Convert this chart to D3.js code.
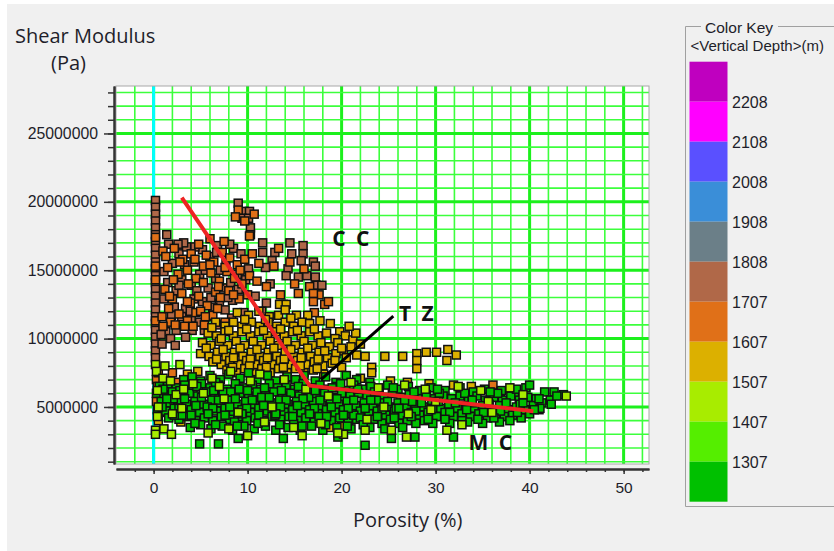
<!DOCTYPE html>
<html>
<head>
<meta charset="utf-8">
<script src="https://cdn.jsdelivr.net/npm/d3@7"></script>
<style>
  html, body { margin: 0; padding: 0; background: #fff; }
  svg { display: block; }
  .tick text { font-family: "Liberation Sans", Arial, sans-serif; font-size: 15.8px; fill: #1e1e2a; }
</style>
</head>
<body>
<svg id="chart" width="834" height="551"></svg>
<script>
// [porosity %, shear modulus in millions of Pa], one array per depth class
const brownPts = [
  [0.2,20.1],[0.2,19.6],[0.2,19.1],[0.2,18.6],[0.2,18.1],[0.2,17.6],[0.2,17.1],[0.2,16.6],[0.2,16.1],[0.2,15.6],
  [0.2,15.1],[0.2,14.6],[0.2,14.1],[0.2,13.6],[0.2,13.1],[0.2,12.6],[0.2,12.1],[0.2,11.6],[0.2,11.1],[0.2,10.6],
  [0.2,10.1],[0.2,9.6],[0.2,9.1],[0.2,8.6],
  [1.6,16.9],[2.7,16.2],[3.5,16.7],[4.3,15.6],[5.2,16.5],[6.0,16.0],[6.8,16.8],[7.7,15.5],[8.5,16.6],[9.3,16.2],
  [10.1,15.1],[1.1,14.9],[2.0,15.5],[3.0,14.3],[4.0,13.9],[4.9,14.7],[5.8,13.7],[6.6,14.4],[7.4,13.7],[8.2,14.1],
  [9.0,13.6],[9.8,14.3],[1.5,14.1],[2.4,13.5],[3.4,12.2],[4.3,12.9],[5.2,12.7],[6.1,13.0],[7.0,12.6],[8.4,12.8],
  [1.1,12.9],[2.2,12.3],[3.0,11.6],[4.0,11.5],[4.9,11.2],[5.8,11.6],[6.7,11.0],[1.3,10.5],[2.4,10.6],[4.1,10.6],
  [1.8,10.0],[0.9,9.6],[3.4,10.1],[2.3,9.5],[11.6,17.0],[11.6,16.3],[12.9,16.3],[12.6,15.7],[11.9,15.2],[14.5,17.0],
  [14.7,16.2],[15.9,16.8],[15.9,16.2],[15.7,15.7],[17.0,15.6],[17.2,15.3],[14.3,15.1],[14.1,14.6],[15.4,14.5],[16.3,14.6],
  [17.2,14.5],[17.3,13.9],[17.9,13.9],[9.0,19.9],[9.6,19.3],[10.2,19.3],[9.4,18.8],[10.1,18.8],[10.3,18.1],[10.3,17.6],
  [12.0,12.6],[11.5,12.0],[9.6,11.9],[8.3,11.5],[7.6,12.1],[10.8,13.1],[3.2,17.0],[1.4,17.6],[12.4,14.0],
  [2.6,16.9],[4.4,16.7],[6.7,16.3],[8.1,16.9],[3.3,15.4],[5.5,15.0],[7.1,15.0],[8.9,14.7],[2.7,13.9],[4.6,13.5],
  [6.3,12.3],[7.9,13.0],[1.9,11.7],[3.9,12.0],[5.4,10.6],[0.8,10.3]
];
const orangePts = [
  [0.2,17.4],[0.2,15.3],[0.2,14.3],[0.2,11.3],
  [1.0,16.4],[2.2,16.6],[3.1,15.8],[4.0,16.2],[4.8,16.9],[5.6,16.1],[6.4,15.6],[7.3,16.3],[8.1,15.9],[8.9,15.4],
  [9.7,15.8],[10.5,16.2],[11.2,15.5],[1.5,15.2],[2.6,14.7],[3.6,15.0],[4.5,14.4],[5.3,15.3],[6.1,14.8],[7.0,14.2],
  [7.8,14.9],[8.6,14.4],[9.4,14.0],[10.2,14.6],[11.0,14.2],[12.0,13.8],[1.2,13.6],[2.0,12.9],[3.0,13.3],[3.9,12.6],
  [4.8,13.1],[5.7,12.4],[6.6,13.4],[0.9,11.6],[1.8,11.2],[2.7,11.8],[3.6,11.3],[4.5,11.9],[5.4,11.0],[6.3,11.7],
  [7.1,13.0],[8.0,13.5],[9.1,12.9],[10.0,13.2],[1.6,12.2],[3.3,10.9],[5.0,12.0],[6.8,12.2],[7.6,11.2],[13.5,13.2],
  [15.0,14.0],[16.6,13.8],[17.6,13.2],[17.1,11.9],[18.2,12.5],[14.5,15.6],[12.8,15.3],[10.7,19.1],[9.0,19.4],[9.7,18.6],
  [8.7,18.9],[10.2,17.5],[7.5,17.1],[6.0,17.3],[13.3,16.6],[16.0,15.1],[15.4,13.3],[17.0,13.3],[17.0,12.7],[18.6,12.7],
  [0.3,7.0],[0.4,6.5],[0.8,5.8],[0.3,5.4],[1.8,6.1],[1.2,6.4],[2.5,6.8],[0.6,4.6],[36.1,6.6],[2.0,7.5],[0.5,7.5],
  [1.3,16.0],[2.8,15.6],[4.4,15.8],[6.0,15.4],[7.6,15.2],[9.2,15.0],[2.1,14.3],[3.7,14.0],[5.3,14.1],[6.9,13.8],
  [8.5,13.2],[1.7,13.1],[3.6,12.7],[5.5,11.6],[2.3,11.0],[4.2,10.9],[1.0,10.9]
];
const goldPts = [
  [13.8,12.5],[13.4,12.5],[14.1,12.5],
  [8.9,11.9],[10.1,11.7],[11.2,12.0],[12.3,11.6],[13.3,11.7],[14.0,12.1],[15.2,11.7],[16.4,11.7],[17.7,11.3],
  [6.6,11.2],[7.6,10.9],[8.5,11.2],[9.4,10.9],[10.4,11.2],[11.3,10.9],[12.2,11.2],[13.1,10.9],[14.0,11.2],[14.9,10.9],
  [15.8,11.2],[16.6,11.1],[18.8,11.1],[19.8,10.5],
  [5.8,10.4],[6.7,10.2],[7.6,10.5],[8.5,10.2],[9.4,10.5],[10.3,10.2],[11.2,10.5],[12.1,10.2],[13.0,10.5],[13.9,10.2],
  [14.8,10.5],[15.7,10.2],[16.6,10.5],[17.5,10.2],[18.4,10.4],[19.3,10.0],[20.4,10.2],[21.2,9.9],
  [5.2,9.7],[6.1,9.5],[7.0,9.8],[7.9,9.5],[8.8,9.8],[9.7,9.5],[10.6,9.8],[11.5,9.5],[12.4,9.8],[13.3,9.5],
  [14.2,9.8],[15.1,9.5],[16.0,9.8],[16.9,9.5],[17.8,9.7],[18.7,9.4],[19.6,9.7],[20.2,9.1],[21.0,9.4],[22.0,9.6],
  [5.0,8.9],[5.9,8.7],[6.8,9.0],[7.7,8.7],[8.6,9.0],[9.5,8.7],[10.4,9.0],[11.3,8.7],[12.2,9.0],[13.1,8.7],
  [14.0,9.0],[14.9,8.7],[15.8,9.0],[16.7,8.7],[17.6,9.0],[18.5,8.6],[19.4,8.9],[20.5,8.6],[21.6,8.8],[22.5,8.7],
  [6.3,8.3],[7.2,8.1],[8.1,8.4],[9.0,8.1],[9.9,8.4],[10.8,8.1],[11.7,8.4],[12.6,8.1],[13.5,8.4],[14.4,8.1],
  [15.3,8.4],[16.2,8.1],[17.1,8.3],[18.0,8.0],[19.0,8.2],[20.0,7.9],[23.2,7.9],[23.2,7.5],
  [7.8,7.7],[8.8,7.5],[9.7,7.8],[10.6,7.5],[11.5,7.8],[12.4,7.5],[13.3,7.8],[14.2,7.5],[15.1,7.8],[16.0,7.5],
  [17.0,7.7],[18.1,7.4],
  [24.6,8.7],[26.5,8.7],[28.0,8.9],[29.0,9.0],[30.1,9.0],[31.3,9.2],[32.2,8.8],[31.2,8.4],[28.0,8.4],[28.0,7.8],
  [31.9,6.6],[29.3,6.7],[27.0,6.8],[25.2,6.9],[22.0,7.1],[33.8,6.5],[20.0,3.6],[18.8,3.5],[2.9,3.9],[3.6,7.4],
  [4.7,7.6],[0.5,4.0],[36.9,6.1],[21.5,6.1],
  [6.2,10.8],[8.0,10.6],[9.9,10.7],[11.7,10.6],[13.5,10.7],[15.3,10.6],[17.1,10.7],[5.6,9.3],[7.4,9.2],[9.2,9.3],
  [11.0,9.2],[12.8,9.3],[14.6,9.2],[16.4,9.3],[18.2,9.1],[20.0,9.3],[6.7,8.5],[8.5,8.6],[10.3,8.5],[12.1,8.6],
  [13.9,8.5],[15.7,8.6],[17.5,8.5],[19.3,8.4],[8.4,7.9],[10.2,8.0],[12.0,7.9],[13.8,7.9],[15.6,8.0],[17.4,7.8],
  [11.9,11.4],[14.6,11.5],[9.7,11.4],[7.2,10.0],[21.5,10.4],[20.8,10.9]
];
const limePts = [
  [0.2,8.1],[0.3,7.6],[1.2,8.0],[2.8,8.1],[1.0,7.1],[1.8,6.9],[0.4,6.2],[0.5,5.0],[0.4,4.3],[0.2,3.3],
  [0.2,3.0],[1.1,3.4],[1.9,3.0],[2.4,5.9],[3.2,6.3],[2.0,4.5],[3.0,4.9],[4.2,6.7],[5.3,6.0],[6.2,7.1],
  [7.5,5.6],[8.2,7.6],[9.0,4.6],[10.3,6.9],[11.8,3.9],[12.6,5.0],[13.9,7.0],[14.9,3.5],[16.2,6.3],[17.8,3.8],
  [18.6,5.8],[20.2,3.0],[21.0,6.8],[22.7,4.1],[23.9,6.4],[25.3,3.3],[26.7,6.6],[27.1,4.5],[28.9,6.3],[30.0,5.4],
  [31.2,3.3],[32.8,3.7],[32.4,6.5],[34.8,6.2],[36.0,4.6],[37.9,6.4],[39.3,5.9],[43.9,5.8],[22.5,3.3],[26.9,2.8],
  [19.6,3.1],[5.8,3.1],[8.0,3.4],[10.0,2.9],[15.8,2.9],[11.3,7.4],[7.0,6.5],[24.5,5.0],[29.5,4.8],[35.6,5.4]
];
const greenPts = [
  [3.2,7.0],[4.1,7.2],[5.0,6.9],[6.0,7.3],[7.1,7.0],[8.0,7.4],[9.2,7.1],[10.1,7.5],[11.0,7.0],[12.1,7.3],
  [13.0,6.9],[14.2,7.2],[15.1,7.0],[16.0,7.3],[17.2,6.9],[18.3,7.2],[19.4,6.8],[20.5,7.3],[21.6,7.0],[23.0,6.8],
  [0.6,6.5],[1.5,6.7],[2.4,6.4],[3.3,6.6],[4.2,6.3],[5.1,6.7],[6.0,6.4],[6.9,6.6],[7.8,6.3],[8.7,6.7],
  [9.6,6.4],[10.5,6.6],[11.4,6.3],[12.3,6.7],[13.2,6.4],[14.1,6.6],[15.0,6.3],[15.9,6.7],[16.8,6.4],[17.7,6.6],
  [18.6,6.3],[19.5,6.5],[20.4,6.2],[21.3,6.6],[22.2,6.3],[23.1,6.5],[24.0,6.2],[24.9,6.6],[26.0,6.3],[27.1,6.5],
  [28.3,6.2],[29.5,6.4],[31.0,6.2],[32.6,6.4],[34.0,6.1],[35.2,6.3],[37.0,6.2],[38.4,6.0],[39.6,6.4],[40.0,6.6],
  [0.3,6.0],[1.1,5.9],[2.0,6.1],[2.9,5.8],[3.8,6.0],[4.7,5.8],[5.6,6.1],[6.5,5.9],[7.4,6.1],[8.3,5.8],
  [9.2,6.0],[10.1,5.8],[11.0,6.1],[11.9,5.9],[12.8,6.1],[13.7,5.8],[14.6,6.0],[15.5,5.8],[16.4,6.1],[17.3,5.9],
  [18.2,6.0],[19.1,5.7],[20.0,6.0],[20.9,5.8],[21.8,6.0],[22.7,5.7],[23.6,5.9],[24.5,5.7],[25.4,6.0],[26.3,5.7],
  [27.2,5.9],[28.1,5.6],[29.0,5.9],[29.9,5.6],[30.8,5.8],[31.7,5.6],[32.6,5.8],[33.5,5.5],[34.4,5.8],[35.3,5.5],
  [36.2,5.7],[37.1,5.5],[38.0,5.8],[38.9,5.5],[39.8,5.7],[40.7,5.6],[41.6,6.1],[42.6,6.1],[43.6,5.9],
  [0.8,5.4],[1.7,5.3],[2.6,5.5],[3.5,5.2],[4.4,5.4],[5.3,5.2],[6.2,5.5],[7.1,5.3],[8.0,5.5],[8.9,5.2],
  [9.8,5.4],[10.7,5.2],[11.6,5.5],[12.5,5.3],[13.4,5.5],[14.3,5.2],[15.2,5.4],[16.1,5.2],[17.0,5.4],[17.9,5.1],
  [18.8,5.4],[19.7,5.2],[20.6,5.4],[21.5,5.1],[22.4,5.3],[23.3,5.1],[24.2,5.3],[25.1,5.0],[26.0,5.3],[26.9,5.0],
  [27.8,5.2],[28.7,5.0],[29.6,5.2],[30.5,4.9],[31.4,5.2],[32.3,4.9],[33.2,5.1],[34.1,4.9],[35.0,5.1],[35.9,4.8],
  [36.8,5.1],[37.7,4.8],[38.6,5.0],[39.5,4.8],[40.4,5.1],[41.3,5.3],[42.2,5.5],
  [0.4,4.8],[1.3,4.7],[2.2,4.9],[3.1,4.6],[4.0,4.8],[4.9,4.6],[5.8,4.9],[6.7,4.7],[7.6,4.9],[8.5,4.6],
  [9.4,4.8],[10.3,4.6],[11.2,4.9],[12.1,4.7],[13.0,4.9],[13.9,4.6],[14.8,4.8],[15.7,4.6],[16.6,4.8],[17.5,4.5],
  [18.4,4.8],[19.3,4.6],[20.2,4.8],[21.1,4.5],[22.0,4.7],[22.9,4.5],[23.8,4.7],[24.7,4.4],[25.6,4.7],[26.5,4.4],
  [27.4,4.6],[28.3,4.4],[29.2,4.6],[30.1,4.3],[31.0,4.6],[31.9,4.3],[32.8,4.5],[33.7,4.3],[34.6,4.5],[35.5,4.2],
  [36.4,4.5],[37.3,4.3],[38.2,4.4],[39.1,4.2],[40.0,4.5],[41.0,4.8],
  [1.6,4.2],[2.7,4.1],[3.6,4.3],[4.5,4.0],[5.4,4.2],[6.3,4.0],[7.2,4.3],[8.1,4.1],[9.0,4.3],[9.9,4.0],
  [10.8,4.2],[11.7,4.0],[12.6,4.3],[13.5,4.1],[14.4,4.3],[15.3,4.0],[16.2,4.2],[17.1,3.9],[18.0,4.2],[18.9,4.0],
  [19.8,4.2],[20.7,3.9],[21.6,4.1],[22.5,3.9],[23.4,4.1],[24.3,3.8],[25.2,4.1],[26.1,3.8],[27.0,4.0],[27.9,3.8],
  [28.8,4.0],[29.7,3.8],[31.5,3.8],[33.4,3.9],[35.0,3.8],[36.8,3.9],
  [3.9,3.5],[5.0,3.7],[6.1,3.4],[7.3,3.6],[8.4,3.3],[9.6,3.6],[10.7,3.4],[11.9,3.6],[13.0,3.3],[14.3,3.5],
  [15.6,3.3],[16.8,3.6],[18.0,3.3],[19.5,3.5],[21.0,3.4],[23.0,3.5],[24.6,3.4],[26.5,3.5],
  [4.9,2.3],[6.9,2.3],[9.0,2.7],[13.8,2.7],[19.6,2.8],[22.5,2.2],[31.9,2.8],[25.3,2.7],[27.8,2.8],[41.1,4.9],
  [42.3,5.2],[2.1,5.6],[5.7,5.0],[9.1,6.3],[12.9,4.4],[16.5,5.7],[19.0,6.4],[23.7,5.5],[27.5,5.4],[30.4,6.0],
  [33.9,5.3],[36.6,6.0],[39.0,5.2],[8.6,3.9],[14.9,3.8],[21.3,4.4],[25.8,4.9],[11.5,5.7],[17.6,4.3],[6.6,6.8],[3.0,4.4],
  [1.0,6.3],[2.8,6.2],[4.6,6.5],[6.4,6.2],[8.2,6.1],[10.0,6.2],[11.8,6.4],[13.6,6.2],[15.4,6.5],[17.2,6.2],
  [19.9,6.7],[21.7,6.3],[23.5,6.1],[25.5,6.4],[27.7,6.1],[30.2,6.3],[33.1,6.0],[35.8,6.1],[38.6,6.3],
  [1.4,5.6],[3.3,5.6],[5.1,5.7],[6.9,5.5],[8.7,5.6],[10.5,5.5],[12.3,5.7],[14.1,5.5],[15.9,5.6],[17.7,5.5],
  [19.5,5.6],[21.3,5.5],[23.1,5.5],[24.9,5.4],[26.7,5.5],[28.5,5.3],[30.3,5.4],[32.1,5.3],[33.9,5.5],[35.7,5.2],
  [37.5,5.3],[39.3,5.3],[41.0,5.6],[42.9,5.8],
  [0.9,5.0],[2.7,4.9],[4.5,5.1],[6.3,4.9],[8.1,5.0],[9.9,4.9],[11.7,5.1],[13.5,5.0],[15.3,5.1],[17.1,4.9],
  [18.9,5.0],[20.7,4.9],[22.5,4.9],[24.3,4.8],[26.1,4.9],[27.9,4.7],[29.7,4.9],[31.5,4.6],[33.3,4.8],[35.1,4.6],
  [36.9,4.7],[38.7,4.6],[40.5,4.8],
  [2.2,4.4],[4.0,4.4],[5.8,4.5],[7.6,4.4],[9.4,4.5],[11.2,4.4],[13.0,4.5],[14.8,4.3],[16.6,4.5],[18.4,4.3],
  [20.2,4.4],[22.0,4.2],[23.8,4.3],[25.6,4.2],[27.4,4.3],[29.2,4.1],[31.0,4.1],[32.8,4.0],[34.5,4.1],[36.2,4.2],
  [37.9,4.0],[4.4,3.8],[6.6,3.7],[8.9,3.6],[11.1,3.8],[13.4,3.7],[15.8,3.6],[18.3,3.7],[20.6,3.6],[22.3,3.7]
];

// depth classes of the colour key, top to bottom
const keyColors = ['#bf00bf', '#ff00ff', '#5a50ff', '#3a8ed8', '#6b7f88', '#b06848',
                   '#e07018', '#dcb000', '#a8ec00', '#55ee00', '#00c000'];
const keyLabels = ['2208', '2108', '2008', '1908', '1808', '1707', '1607', '1507', '1407', '1307'];

const xMajor = [0, 10, 20, 30, 40, 50];
const yMajor = [5000000, 10000000, 15000000, 20000000, 25000000];

const trendLine = [[3.0, 20.3], [16.6, 6.56], [40.4, 4.69]];
const tzPointer = [[25.5, 11.65], [17.8, 7.0]];
const zoneLabels = [
  { text: 'C C', x: 19.0, y: 16.77 },
  { text: 'T Z', x: 26.1, y: 11.29 },
  { text: 'M C', x: 33.5, y: 1.86 }
];

const svg = d3.select('#chart');
const x = d3.scaleLinear().domain([-4, 52.7]).range([116, 649]);
const y = d3.scaleLinear().domain([0.83e6, 28.47e6]).range([464, 86]);
const px = d => x(d[0]);
const py = d => y(d[1] * 1e6);

svg.append('rect').attr('x', 7).attr('y', 4).attr('width', 827).attr('height', 547).attr('fill', '#f0f0f0');
svg.append('rect').attr('x', 116).attr('y', 86).attr('width', 533).attr('height', 378).attr('fill', '#fff');

// grid
let grid = svg.append('g');
grid.selectAll('.gx').data(d3.range(-2, 53, 2)).enter().append('line')
    .attr('x1', d => x(d)).attr('x2', d => x(d))
    .attr('y1', y.range()[0]).attr('y2', y.range()[1])
    .attr('stroke', d => d % 10 === 0 ? '#1cf01c' : '#3cff3c')
    .attr('stroke-width', d => d % 10 === 0 ? 3 : 1.6);
grid.selectAll('.gy').data(d3.range(1e6, 28.5e6, 1e6)).enter().append('line')
    .attr('x1', x.range()[0]).attr('x2', x.range()[1])
    .attr('y1', d => y(d)).attr('y2', d => y(d))
    .attr('stroke', d => d % 5e6 === 0 ? '#1cf01c' : '#3cff3c')
    .attr('stroke-width', d => d % 5e6 === 0 ? 3 : 1.6);
grid.append('line')
    .attr('x1', x(0)).attr('x2', x(0))
    .attr('y1', y.range()[0]).attr('y2', y.range()[1])
    .attr('stroke', '#00ffff').attr('stroke-width', 3);

svg.append('rect').attr('x', 116).attr('y', 86).attr('width', 533).attr('height', 378)
   .attr('fill', 'none').attr('stroke', '#a8a8a8');

// axes
let styleAxis = g => {
    g.select('.domain').attr('stroke', '#333').attr('stroke-width', 2);
    g.selectAll('.tick line').attr('stroke', '#333').attr('stroke-width', 1.5);
};
svg.append('g').attr('transform', 'translate(114,0)')
   .call(d3.axisLeft(y).tickValues(d3.range(1e6, 28.5e6, 1e6)).tickSize(6).tickSizeOuter(0).tickFormat(''))
   .call(styleAxis);
svg.append('g').attr('transform', 'translate(114,0)')
   .call(d3.axisLeft(y).tickValues(yMajor).tickSize(10).tickPadding(6).tickSizeOuter(0).tickFormat(d3.format('d')))
   .call(styleAxis);
svg.append('g').attr('transform', 'translate(0,469)')
   .call(d3.axisBottom(x).tickValues(d3.range(-2, 53, 2)).tickSize(3).tickSizeOuter(0).tickFormat(''))
   .call(styleAxis);
svg.append('g').attr('transform', 'translate(0,469)')
   .call(d3.axisBottom(x).tickValues(xMajor).tickSize(5).tickPadding(8).tickSizeOuter(0))
   .call(styleAxis)
   .selectAll('text').style('font-size', '15.5px');

// points, deepest first
let size = 8;
let groups = [[brownPts, keyColors[5]], [orangePts, keyColors[6]], [goldPts, keyColors[7]],
              [greenPts, keyColors[10]], [limePts, keyColors[8]]];
groups.forEach(([pts, col]) => {
    svg.append('g').selectAll('rect').data(pts).enter().append('rect')
       .attr('x', d => px(d) - size / 2).attr('y', d => py(d) - size / 2)
       .attr('width', size).attr('height', size)
       .attr('fill', col).attr('stroke', '#111').attr('stroke-width', 1.5);
});

let line = d3.line().x(px).y(py);
svg.append('path').attr('d', line(trendLine)).attr('fill', 'none')
   .attr('stroke', '#ee2424').attr('stroke-width', 4).attr('stroke-linejoin', 'round');
svg.append('path').attr('d', line(tzPointer)).attr('fill', 'none')
   .attr('stroke', '#000').attr('stroke-width', 3);

svg.selectAll('.zone').data(zoneLabels).enter().append('text')
   .attr('x', d => x(d.x)).attr('y', d => y(d.y * 1e6))
   .attr('font-family', 'Open Sans, sans-serif').attr('font-weight', 'bold').attr('font-size', 21)
   .attr('letter-spacing', 2.5).attr('fill', '#111').text(d => d.text);

// titles
let title = (t, tx, ty) => svg.append('text').attr('x', tx).attr('y', ty)
   .attr('font-family', 'Open Sans, sans-serif').attr('font-size', 20).attr('fill', '#1e1e2a').text(t);
title('Shear Modulus', 15, 43);
title('(Pa)', 51, 70);
title('Porosity (%)', 353, 527);

// colour key
let key = svg.append('g');
key.append('path').attr('d', 'M701,26.5H685.5V506.5H834M778,26.5H834')
   .attr('fill', 'none').attr('stroke', '#a0a0a0');
key.append('text').attr('x', 705).attr('y', 33).attr('font-family', 'Liberation Sans, Arial, sans-serif')
   .attr('font-size', 15.5).attr('fill', '#1e1e2a').text('Color Key');
key.append('text').attr('x', 690.5).attr('y', 51).attr('font-family', 'Liberation Sans, Arial, sans-serif')
   .attr('font-size', 15).attr('fill', '#1e1e2a').text('<Vertical Depth>(m)');
let band = d3.scaleBand().domain(d3.range(keyColors.length)).range([61.7, 501.7]);
key.selectAll('.blk').data(keyColors).enter().append('rect')
   .attr('x', 689.5).attr('y', (d, i) => band(i)).attr('width', 38).attr('height', band.bandwidth())
   .attr('fill', d => d);
key.selectAll('.lbl').data(keyLabels).enter().append('text')
   .attr('x', 732).attr('y', (d, i) => band(i + 1) + 6)
   .attr('font-family', 'Liberation Sans, Arial, sans-serif').attr('font-size', 16).attr('fill', '#1e1e2a')
   .text(d => d);
</script>
</body>
</html>
